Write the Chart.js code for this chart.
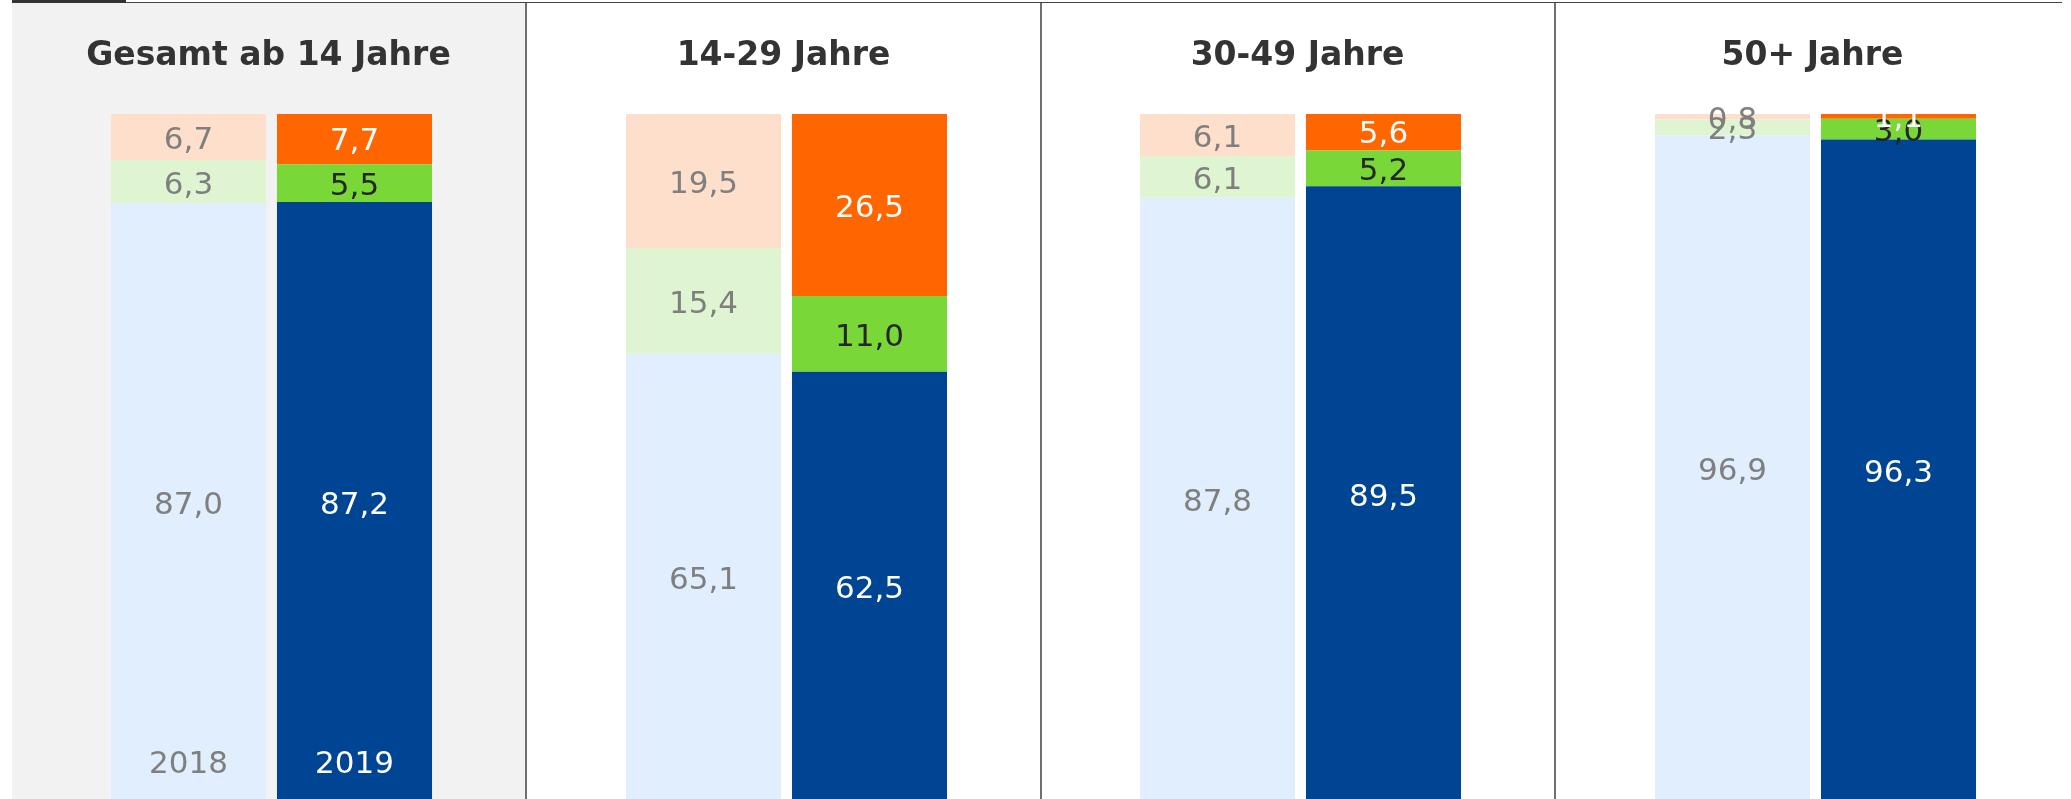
<!DOCTYPE html>
<html>
<head>
<meta charset="utf-8">
<script src="https://cdn.jsdelivr.net/npm/chart.js@4/dist/chart.umd.min.js"></script>
<style>
    body { margin: 0; background: #ffffff; }
    #wrap { position: relative; width: 2071px; height: 799px; overflow: hidden; background: #ffffff; }
    #wrap canvas { position: absolute; top: 0; }
    .box { position: absolute; }
</style>
</head>
<body>
<div id="wrap">
    <div class="box" style="left:12px;top:3px;width:513px;height:796px;background:#f2f2f2"></div>
    <div class="box" style="left:525px;top:2px;width:2px;height:797px;background:#707070"></div>
    <div class="box" style="left:1040px;top:2px;width:2px;height:797px;background:#707070"></div>
    <div class="box" style="left:1554px;top:2px;width:2px;height:797px;background:#707070"></div>
    <div class="box" style="left:12px;top:2px;width:2050px;height:1px;background:#444444"></div>
    <div class="box" style="left:12px;top:0px;width:114px;height:3px;background:#333333"></div>
    <canvas id="c0" width="513" height="801" style="left:12px"></canvas>
    <canvas id="c1" width="513" height="801" style="left:527px"></canvas>
    <canvas id="c2" width="513" height="801" style="left:1041px"></canvas>
    <canvas id="c3" width="513" height="801" style="left:1556px"></canvas>
</div>
<script>
// values, one entry per age group
const groups = ['Gesamt ab 14 Jahre', '14-29 Jahre', '30-49 Jahre', '50+ Jahre'];
const years = ['2018', '2019'];
const blue2018 = [87.0, 65.1, 87.8, 96.9];
const blue2019 = [87.2, 62.5, 89.5, 96.3];
const green2018 = [6.3, 15.4, 6.1, 2.3];
const green2019 = [5.5, 11.0, 5.2, 3.0];
const orange2018 = [6.7, 19.5, 6.1, 0.8];
const orange2019 = [7.7, 26.5, 5.6, 1.1];

const FONT = "'DejaVu Sans', Verdana, sans-serif";

// label colour per dataset: [2018, 2019]
const labelColors = [
    ['#7f7f7f', '#ffffff'],
    ['#7f7f7f', '#262626'],
    ['#7f7f7f', '#ffffff']
];

function fmt(v) {
    return v.toFixed(1).replace('.', ',');
}

// panel heading - the built-in title squeezes long text to the chart area width
const panelTitle = {
    id: 'panelTitle',
    afterDraw(chart, args, opts) {
        const ctx = chart.ctx;
        ctx.save();
        ctx.font = 'bold 33px ' + FONT;
        ctx.fillStyle = '#333333';
        ctx.textAlign = 'center';
        ctx.textBaseline = 'alphabetic';
        ctx.fillText(opts.text, chart.width / 2, 65);
        ctx.restore();
    }
};

const segmentLabels = {
    id: 'segmentLabels',
    afterDatasetsDraw(chart, args, opts) {
        const ctx = chart.ctx;
        ctx.save();
        ctx.font = '31px ' + FONT;
        ctx.textAlign = 'center';
        ctx.textBaseline = 'middle';
        chart.data.datasets.forEach((ds, di) => {
            chart.getDatasetMeta(di).data.forEach((bar, i) => {
                ctx.fillStyle = labelColors[di][i];
                ctx.fillText(fmt(ds.data[i]), bar.x, (bar.y + bar.base) / 2 + 4);
            });
        });
        // year names only inside the first panel
        if (opts.years) {
            const x = chart.scales.x;
            years.forEach((y, i) => {
                ctx.fillStyle = i === 0 ? '#7f7f7f' : '#ffffff';
                ctx.fillText(y, x.getPixelForValue(i), 765);
            });
        }
        ctx.restore();
    }
};

function addPanel(idx) {
    const data = {
        labels: years,
        datasets: [{
            label: 'blau',
            data: [blue2018[idx], blue2019[idx]],
            backgroundColor: ['#e0eefd', '#004494']
        },
        {
            label: 'grün',
            data: [green2018[idx], green2019[idx]],
            backgroundColor: ['#dff5d2', '#79d838']
        },
        {
            label: 'orange',
            data: [orange2018[idx], orange2019[idx]],
            backgroundColor: ['#fddfcb', '#ff6600']
        }]
    };
    const config = {
        type: 'bar',
        data: data,
        options: {
            responsive: false,
            animation: false,
            categoryPercentage: 1,
            barPercentage: 0.934,
            layout: {
                padding: { left: 93.5, right: 87.5, top: 114, bottom: 0 }
            },
            scales: {
                x: { stacked: true, display: false },
                y: { stacked: true, display: false, min: 0, max: 100 }
            },
            plugins: {
                legend: { display: false },
                tooltip: { enabled: false },
                title: { display: false },
                panelTitle: { text: groups[idx] },
                segmentLabels: { years: idx === 0 }
            }
        },
        plugins: [segmentLabels, panelTitle]
    };
    new Chart(document.getElementById('c' + idx), config);
}

groups.forEach((g, i) => addPanel(i));
</script>
</body>
</html>
